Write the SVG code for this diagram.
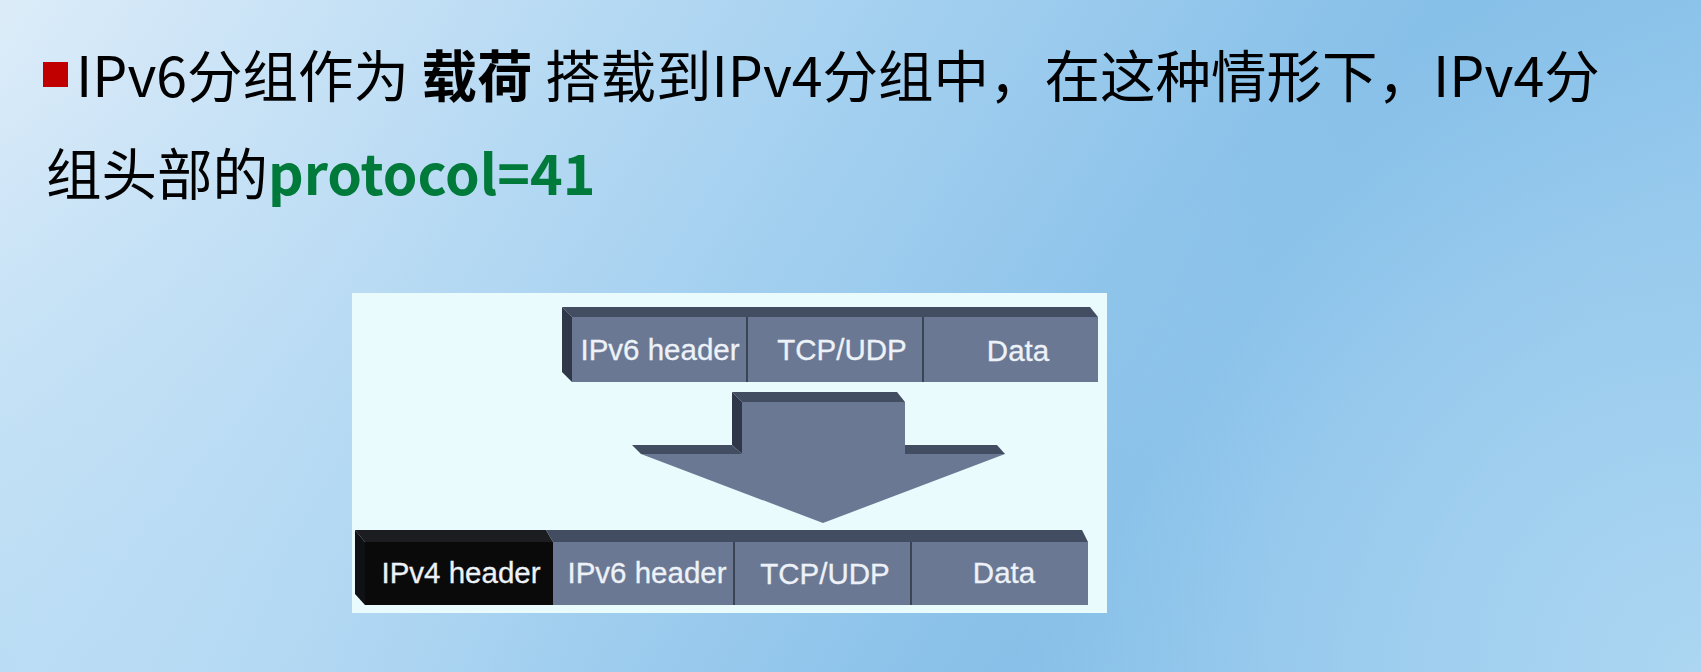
<svg xmlns="http://www.w3.org/2000/svg" width="1701" height="672" viewBox="0 0 1701 672">
<defs>
<linearGradient id="bg" x1="0" y1="0" x2="1" y2="0.25">
<stop offset="0" stop-color="#dcecf9"/>
<stop offset="0.45" stop-color="#a9d3f1"/>
<stop offset="0.8" stop-color="#86bfe8"/>
<stop offset="1" stop-color="#8cc3ea"/>
</linearGradient>
<radialGradient id="glow" cx="1701" cy="672" r="700" gradientUnits="userSpaceOnUse">
<stop offset="0" stop-color="#b4dbf4" stop-opacity="0.8"/>
<stop offset="1" stop-color="#b4dbf4" stop-opacity="0"/>
</radialGradient>
<radialGradient id="glow2" cx="0" cy="672" r="600" gradientUnits="userSpaceOnUse">
<stop offset="0" stop-color="#b8dcf4" stop-opacity="0.7"/>
<stop offset="1" stop-color="#b8dcf4" stop-opacity="0"/>
</radialGradient>
</defs>
<style>
.t{font-family:"Noto Sans CJK SC","Noto Sans",sans-serif;font-size:55.5px;fill:#000}
.b{font-weight:bold}
.g{fill:#007a3a;font-weight:bold}
.face{fill:#6b7893}
.top{fill:#434d61}
.side{fill:#2f3748}
.sep{stroke:#3b4455;stroke-width:2}
.lbl{font-family:"Liberation Sans",Arial,sans-serif;font-size:29.5px;fill:#edf2f8;stroke:#edf2f8;stroke-width:0.3;text-anchor:middle}
</style>
<rect width="1701" height="672" fill="url(#bg)"/>
<rect width="1701" height="672" fill="url(#glow)"/>
<rect width="1701" height="672" fill="url(#glow2)"/>

<g id="title">
<rect x="43" y="62" width="25" height="25" fill="#c00000"/>
<text class="t" x="76" y="97">IPv6分组作为 <tspan class="b">载荷</tspan> 搭载到IPv4分组中，在这种情形下，IPv4分</text>
<text class="t" x="46" y="195">组头部的<tspan class="g">protocol=41</tspan></text>
</g>

<g id="panel">
<rect x="352" y="293" width="755" height="320" fill="#eafbfd"/>
</g>

<g id="ipv6-packet">
<polygon class="top" points="562,307 1090,307 1098,317 572,317"/>
<polygon class="side" points="562,307 572,317 572,382 562,372"/>
<rect class="face" x="572" y="317" width="526" height="65"/>
<line class="sep" x1="747" y1="317" x2="747" y2="382"/>
<line class="sep" x1="923" y1="317" x2="923" y2="382"/>
<g id="ipv6-header-top"><text class="lbl" x="660" y="360">IPv6 header</text></g>
<g id="tcpudp-top"><text class="lbl" x="842" y="360">TCP/UDP</text></g>
<g id="data-top"><text class="lbl" x="1018" y="361">Data</text></g>
</g>

<g id="connectors">
<polygon class="top" points="732,392 897,392 905,402 742,402"/>
<polygon class="side" points="732,392 742,402 742,454 732,445"/>
<polygon class="top" points="632,445 732,445 742,454 641,454"/>
<polygon class="top" points="905,445 997,445 1005,454 905,454"/>
<polygon class="face" points="742,402 905,402 905,454 1005,454 823,523 641,454 742,454"/>
</g>

<g id="ipv4-packet">
<polygon fill="#1c1d20" points="355,530 546,530 553,542 365,542"/>
<polygon class="top" points="546,530 1082,530 1088,542 553,542"/>
<polygon fill="#101114" points="355,530 365,542 365,605 355,594"/>
<rect class="face" x="553" y="542" width="535" height="63"/>
<rect x="365" y="542" width="188" height="63" fill="#0a0a0b"/>
<line class="sep" x1="734" y1="542" x2="734" y2="605"/>
<line class="sep" x1="911" y1="542" x2="911" y2="605"/>
<g id="ipv4-header"><text class="lbl" x="461" y="583">IPv4 header</text></g>
<g id="ipv6-header-bottom"><text class="lbl" x="647" y="583">IPv6 header</text></g>
<g id="tcpudp-bottom"><text class="lbl" x="825" y="584">TCP/UDP</text></g>
<g id="data-bottom"><text class="lbl" x="1004" y="583">Data</text></g>
</g>
</svg>
